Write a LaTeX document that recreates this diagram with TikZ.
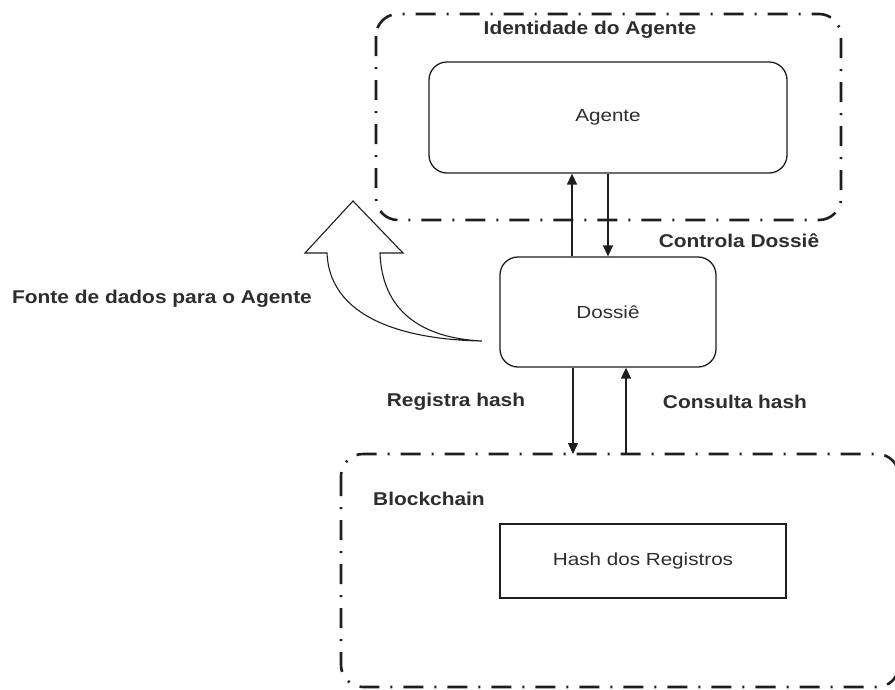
\documentclass[tikz,border=0pt]{standalone}
\usepackage{fontspec}
\setmainfont{Liberation Sans}
\usetikzlibrary{arrows.meta}

\definecolor{ink}{RGB}{30,30,30}
\definecolor{txt}{RGB}{45,45,45}

% wide text, as the labels are set slightly stretched
\newcommand{\wtext}[1]{\scalebox{1.18}[1]{#1}}
\newcommand{\wbold}[1]{\scalebox{1.13}[1]{\bfseries #1}}

\tikzset{
  group/.style={draw=ink, line width=2.6pt, rounded corners=22pt,
    dash pattern=on 20pt off 11pt on 2pt off 11pt},
  roundbox/.style={draw=ink, line width=1.3pt, rounded corners=18pt,
    text=txt, font=\fontsize{17.5}{20}\selectfont},
  plainbox/.style={draw=ink, line width=1.3pt, text=txt,
    font=\fontsize{17.5}{20}\selectfont},
  label/.style={text=txt, font=\fontsize{18.5}{20}\selectfont, inner sep=0pt},
  flow/.style={draw=ink, line width=1.4pt,
    -{Triangle[width=10pt,length=11pt]}},
}

\begin{document}
\begin{tikzpicture}[x=1pt,y=-1pt]
  \useasboundingbox (0,0) rectangle (895,689);

  % containers
  \draw[group] (376,14) rectangle (841,220);
  \draw[group] (341,454) rectangle (899,687);
  \node[label] (identlbl) at (590,30) {\wbold{Identidade do Agente}};
  \node[label] (chainlbl) at (429,499) {\wbold{Blockchain}};

  % top edge of the blockchain group, where the hash links end
  \coordinate (chaintop) at (608,454);

  % boxes
  \node[roundbox, minimum width=358pt, minimum height=111pt] (agente) at (608,117.5) {\wtext{Agente}};
  \node[roundbox, minimum width=216pt, minimum height=110pt] (dossie) at (608,312) {\wtext{Dossiê}};
  \node[plainbox, minimum width=286pt, minimum height=74pt] (hash) at (643,561) {\wtext{Hash dos Registros}};

  % links between agent and dossier
  \draw[flow] ([xshift=-36pt]dossie.north) -- ([xshift=-36pt]agente.south);
  \draw[flow] (agente.south) -- (dossie.north);

  % links between dossier and blockchain
  \draw[flow] ([xshift=-35pt]dossie.south) -- ([xshift=-35pt]dossie.south |- chaintop);
  \draw[flow] ([xshift=18pt]dossie.south |- chaintop) -- ([xshift=18pt]dossie.south);

  % labels on the links
  \node[label] (ctrl) at (739,241) {\wbold{Controla Dossiê}};
  \node[label] (reg) at (456,402) {\wbold{Registra hash}};
  \node[label] (cons) at (735,402) {\wbold{Consulta hash}};

  % curved block arrow: data source for the agent
  \coordinate (src) at (482,341);
  \draw[draw=ink, line width=1.1pt, fill=white, line join=miter]
    (src) .. controls (420,340) and (330,325) .. (327,253)
    -- (305,253) -- (353,201) -- (403,253) -- (380,253)
    .. controls (382,310) and (420,338) .. (src);
  \node[label] (fonte) at (162,299) {\wbold{Fonte de dados para o Agente}};
\end{tikzpicture}
\end{document}
